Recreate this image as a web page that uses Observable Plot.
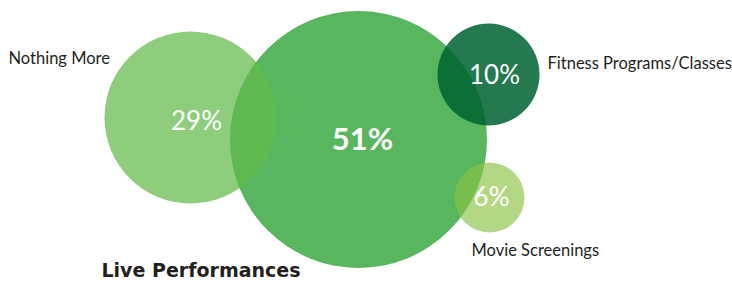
<!DOCTYPE html>
<html>
<head>
<meta charset="utf-8">
<script src="https://cdn.jsdelivr.net/npm/d3@7"></script>
<script src="https://cdn.jsdelivr.net/npm/@observablehq/plot@0.6"></script>
<style>
  html, body { margin: 0; padding: 0; background: #fff; }
  svg { display: block; }
</style>
</head>
<body>
<div id="chart"></div>
<script>
// ---- data ----
const categories = ["Live Performances", "Nothing More", "Fitness Programs/Classes", "Movie Screenings"];
const values = [51, 29, 10, 6];
const valueLabels = ["51%", "29%", "10%", "6%"];

// ---- layout (bubble centres in chart units) ----
const bubbleX = [358, 190, 488, 489];
const bubbleY = [139, 117, 74, 197];
const pctX = [362, 196, 494, 491];
const pctY = [140, 121, 75, 197];
const nameX = [101, 8, 547, 471];
const nameY = [270, 58, 63, 250];

// ---- styles ----
const colors = ["#57b65e", "#61ba49", "#016332", "#8ac343"];
const alphas = [1, 0.72, 0.86, 0.65];

const data = categories.map((c, i) => ({
  category: c, value: values[i], label: valueLabels[i],
  bx: bubbleX[i], by: bubbleY[i], px: pctX[i], py: pctY[i],
  nx: nameX[i], ny: nameY[i], alpha: alphas[i]
}));

const chart = Plot.plot({
  width: 732,
  height: 284,
  margin: 0,
  style: { fontFamily: "Lato, 'Open Sans', sans-serif", background: "#fff", overflow: "visible" },
  x: { domain: [0, 732], range: [0, 732], axis: null },
  y: { domain: [0, 284], range: [0, 284], axis: null },
  r: { type: "linear", domain: [6, 10, 29, 51], range: [35, 51, 86, 128.5] },
  color: { domain: categories, range: colors },
  opacity: { type: "identity" },
  marks: [
    Plot.dot(data, { x: "bx", y: "by", r: "value", fill: "category", fillOpacity: "alpha", stroke: null }),
    Plot.text(data.filter(d => d.value !== 51), {
      x: "px", y: "py", text: "label", fill: "#fff", fontSize: 26, fontWeight: 400,
      textAnchor: "middle", lineAnchor: "middle"
    }),
    Plot.text(data.filter(d => d.value === 51), {
      x: "px", y: "py", text: "label", fill: "#fff", fontSize: 31, fontWeight: 700,
      textAnchor: "middle", lineAnchor: "middle", letterSpacing: 4
    }),
    Plot.text(data.filter(d => d.value !== 51), {
      x: "nx", y: "ny", text: "category", fill: "#231f20", fontSize: 16.5,
      textAnchor: "start", lineAnchor: "middle"
    }),
    Plot.text(data.filter(d => d.value === 51), {
      x: "nx", y: "ny", text: "category", fill: "#231f20", fontSize: 19, fontWeight: 700,
      fontFamily: "'DejaVu Sans', sans-serif",
      textAnchor: "start", lineAnchor: "middle"
    })
  ]
});
document.getElementById("chart").appendChild(chart);
</script>
</body>
</html>
